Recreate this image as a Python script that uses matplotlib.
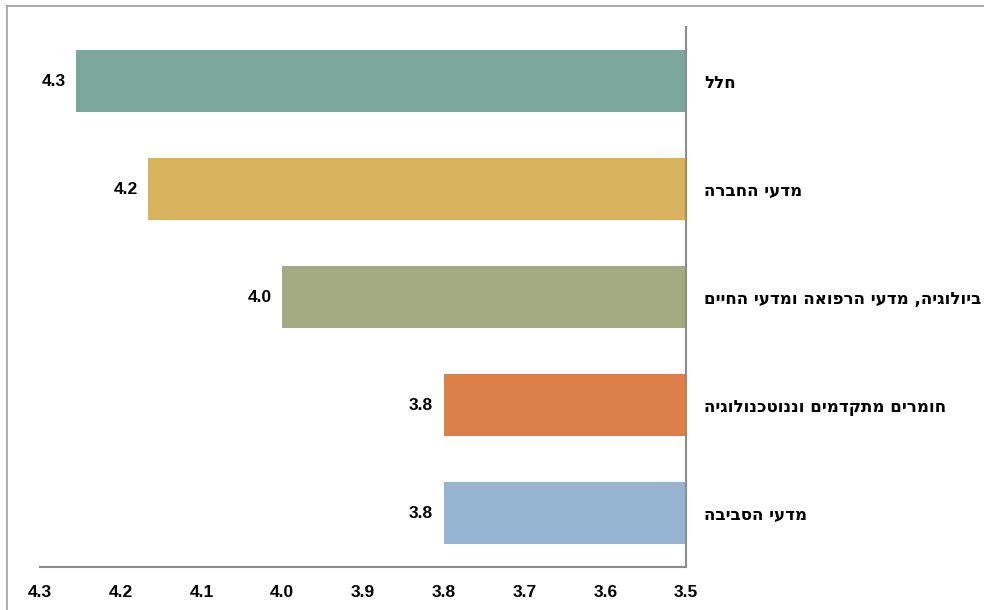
import matplotlib
matplotlib.use("Agg")
import matplotlib.pyplot as plt
from matplotlib.lines import Line2D

plt.rcParams['font.family'] = ['Liberation Sans Narrow', 'Liberation Sans', 'DejaVu Sans']

categories = ["חלל", "מדעי החברה", "ביולוגיה, מדעי הרפואה ומדעי החיים",
              "חומרים מתקדמים וננוטכנולוגיה", "מדעי הסביבה"]
values = [4.255, 4.166, 4.0, 3.8, 3.8]
labels = ["4.3", "4.2", "4.0", "3.8", "3.8"]
colors = ["#7BA79D", "#D8B25C", "#A5AB81", "#DD7F48", "#95B4D1"]
base = 3.5
xticks = [4.3, 4.2, 4.1, 4.0, 3.9, 3.8, 3.7, 3.6, 3.5]


def visual(s):
    # matplotlib has no bidi support, so flip Hebrew to visual order
    return s[::-1]


fig = plt.figure(figsize=(9.84, 6.10), dpi=100)
ax = fig.add_axes([40 / 984, 1 - 567 / 610, (686 - 40) / 984, (567 - 27) / 610])

ypos = list(range(len(categories)))
ax.barh(ypos, [v - base for v in values], left=base, height=0.57, color=colors)

for y, v, lab in zip(ypos, values, labels):
    ax.text(v + 0.013, y, lab, ha='right', va='center', fontsize=12.5, fontweight='bold')

ax.set_xlim(4.3, 3.5)
ax.set_ylim(len(categories) - 0.5, -0.5)
ax.set_xticks(xticks)
ax.set_xticklabels([f"{t:.1f}" for t in xticks], fontsize=12.5, fontweight='bold')
ax.set_yticks(ypos)
ax.set_yticklabels([visual(c) for c in categories], fontsize=12, fontweight='bold',
                   family=['DejaVu Sans'])
ax.yaxis.tick_right()
ax.tick_params(axis='y', length=0, pad=13)
ax.tick_params(axis='x', length=0, pad=13)

for side in ['top', 'left']:
    ax.spines[side].set_visible(False)
for side in ['bottom', 'right']:
    ax.spines[side].set_color('#8C8C8C')
    ax.spines[side].set_linewidth(1.5)

# outer frame (only top and left edges visible)
fig.add_artist(Line2D([7 / 984, 1.0], [1 - 6 / 610, 1 - 6 / 610], color='#A0A0A0', lw=1.2))
fig.add_artist(Line2D([7 / 984, 7 / 984], [0.0, 1 - 6 / 610], color='#A0A0A0', lw=1.2))

fig.savefig("out.png", dpi=100)
